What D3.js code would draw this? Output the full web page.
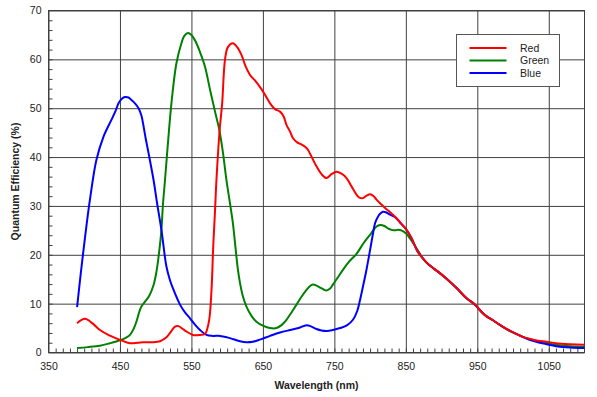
<!DOCTYPE html>
<html>
<head>
<meta charset="utf-8">
<script src="https://cdnjs.cloudflare.com/ajax/libs/d3/7.8.5/d3.min.js"></script>
<style>
    body { margin: 0; background: #fff; }
    text { font-family: "Liberation Sans", Arial, sans-serif; fill: #222; }
</style>
</head>
<body>
<script>
    // wavelength (nm) / quantum efficiency (%)
    var redWl = [390, 401, 412, 422, 435, 450, 464, 475, 483, 495, 506, 515, 520, 527, 532, 538, 543, 552, 562, 569, 574, 576, 578.5, 580.5, 583, 585, 589.5, 593, 597, 601, 608, 614, 620, 626, 632, 640, 648, 654, 660, 667, 674, 679, 683, 688, 692, 698, 704, 709, 713, 719, 725, 732, 739, 746, 753, 760, 767, 774, 781, 785, 790, 795, 800, 805, 809, 815, 821, 828, 835, 842, 850, 858, 866, 872, 879, 888, 898, 907, 921, 935, 946, 950, 956, 963, 972, 981, 990, 1000, 1012, 1023, 1035, 1047, 1060, 1080, 1100];
    var redQe = [6.0, 6.9, 5.9, 4.6, 3.5, 2.6, 1.9, 2.0, 2.1, 2.1, 2.3, 3.1, 4.0, 5.3, 5.4, 4.8, 4.3, 3.6, 3.6, 3.8, 6.0, 8.1, 14, 21.7, 29, 35.3, 45.6, 51, 60, 62.5, 63.3, 62.5, 60.9, 58.5, 56.8, 55.5, 53.9, 52.5, 51.0, 49.8, 49.3, 48.3, 46.6, 45.2, 43.9, 43.0, 42.6, 42.1, 41.5, 39.8, 38.1, 36.5, 35.7, 36.5, 37.0, 36.6, 35.7, 34.0, 32.3, 31.7, 31.6, 32.1, 32.4, 32.0, 31.3, 30.4, 29.6, 28.7, 27.8, 26.6, 25.3, 23.4, 20.8, 19.6, 18.4, 17.3, 16.2, 15.1, 13.2, 11.1, 9.9, 9.3, 8.3, 7.4, 6.6, 5.7, 4.9, 4.1, 3.3, 2.8, 2.4, 2.2, 1.9, 1.7, 1.6];

    var greenWl = [390, 405, 422, 436, 450, 458, 464, 469, 473, 477, 480, 485, 491, 497, 501, 504, 508, 510, 513, 516, 522, 529, 536, 540, 545, 550, 556, 562, 569, 576, 583, 589, 594, 599, 604, 608, 612, 615, 618, 622, 627, 634, 641, 650, 660, 669, 676, 683, 690, 697, 704, 711, 716, 720, 725, 730, 735, 739, 744, 748, 755, 762, 770, 781, 790, 795, 801, 809, 814, 820, 825, 830, 835, 839, 845, 850, 856, 862, 868, 872, 879, 888, 898, 907, 921, 935, 946, 950, 956, 963, 972, 981, 990, 1000, 1012, 1023, 1035, 1047, 1060, 1080, 1100];
    var greenQe = [0.9, 1.1, 1.4, 1.9, 2.5, 3.0, 3.6, 4.8, 6.3, 8.3, 9.4, 10.4, 11.6, 13.8, 16.5, 19.6, 25.1, 30, 35.3, 40.8, 51, 59.2, 63.3, 64.8, 65.4, 65.0, 63.6, 61.5, 58.5, 53.8, 49.3, 45.6, 41, 35.3, 30.5, 26.5, 21, 17, 14.2, 11.5, 9.4, 7.5, 6.3, 5.5, 5.0, 5.0, 5.6, 6.7, 8.2, 9.8, 11.4, 12.8, 13.6, 13.9, 13.7, 13.3, 12.9, 12.7, 13.1, 13.9, 15.4, 16.9, 18.5, 20.2, 22.2, 23.2, 24.3, 25.8, 26.1, 25.9, 25.4, 25.1, 25.0, 25.1, 24.9, 24.4, 23.3, 22.0, 20.6, 19.6, 18.4, 17.3, 16.2, 15.1, 13.2, 11.1, 9.9, 9.3, 8.3, 7.4, 6.6, 5.7, 4.9, 4.1, 3.3, 2.7, 2.3, 1.9, 1.6, 1.3, 1.2];

    var blueWl = [390, 395, 399, 404, 408, 417, 427, 438, 444, 448, 453, 457, 462, 466, 471, 476, 480, 483, 486, 490, 497, 502, 508, 515, 520, 525, 534, 541, 548, 555, 562, 571, 580, 590, 600, 609, 618, 627, 636, 643, 649, 660, 674, 688, 700, 711, 718, 725, 732, 739, 748, 758, 768, 776, 782, 786, 790, 795, 800, 804, 807, 811, 814, 818, 822, 828, 835, 842, 850, 858, 866, 872, 879, 888, 898, 907, 921, 935, 946, 950, 956, 963, 972, 981, 990, 1000, 1012, 1023, 1035, 1047, 1060, 1080, 1100];
    var blueQe = [9.3, 16, 21, 27, 31.3, 39.4, 44.2, 47.6, 49.5, 51, 52.0, 52.3, 52.2, 51.7, 51.0, 50.0, 48.5, 46.3, 43.8, 40.8, 35.3, 30.5, 25.1, 17.6, 14.8, 12.8, 9.8, 8.2, 7.0, 5.7, 4.6, 3.6, 3.4, 3.4, 3.1, 2.7, 2.3, 2.1, 2.2, 2.5, 2.8, 3.4, 4.1, 4.6, 5.0, 5.6, 5.3, 4.8, 4.5, 4.4, 4.6, 5.0, 5.6, 6.7, 8.5, 10.8, 13.5, 17, 21, 24.3, 26.5, 27.8, 28.4, 28.8, 28.7, 28.2, 27.7, 26.6, 25.3, 23.4, 20.8, 19.6, 18.4, 17.3, 16.2, 15.1, 13.2, 11.1, 9.9, 9.3, 8.3, 7.4, 6.6, 5.7, 4.9, 4.1, 3.3, 2.6, 2.1, 1.7, 1.3, 1.0, 0.9];

    var seriesNames = ["Red", "Green", "Blue"];
    var seriesColors = ["#ff0000", "#008000", "#0000ff"];
    var xTicks = [350, 450, 550, 650, 750, 850, 950, 1050];
    var yTicks = [0, 10, 20, 30, 40, 50, 60, 70];

    var series = [
        { name: seriesNames[0], color: seriesColors[0], wl: redWl, qe: redQe },
        { name: seriesNames[1], color: seriesColors[1], wl: greenWl, qe: greenQe },
        { name: seriesNames[2], color: seriesColors[2], wl: blueWl, qe: blueQe }
    ];

    // Set the dimensions of the canvas / graph
    var margin = {top: 10.5, right: 12.5, bottom: 44.5, left: 48.5};
    var width = 597 - margin.left - margin.right;
    var height = 397 - margin.top - margin.bottom;

    var x = d3.scaleLinear().domain([350, 1100]).range([0, width]);
    var y = d3.scaleLinear().domain([0, 70]).range([height, 0]);

    var svg = d3.select("body")
        .append("svg")
        .attr("width", 597)
        .attr("height", 397);

    var g = svg.append("g")
        .attr("transform", "translate(" + margin.left + "," + margin.top + ")");

    var gridColor = "#404040";

    // minor ticks, inside the plot
    g.append("g")
        .attr("transform", "translate(0," + height + ")")
        .call(d3.axisTop(x).tickValues(d3.range(360, 1100, 10)).tickSize(4).tickFormat(""))
        .call(function(a) { a.select(".domain").remove(); })
        .selectAll("line").attr("stroke", gridColor);

    g.append("g")
        .call(d3.axisRight(y).tickValues(d3.range(2, 70, 2)).tickSize(4).tickFormat(""))
        .call(function(a) { a.select(".domain").remove(); })
        .selectAll("line").attr("stroke", gridColor);

    // grid lines
    g.append("g")
        .attr("transform", "translate(0," + height + ")")
        .call(d3.axisBottom(x).tickValues(xTicks).tickSize(-height).tickFormat(""))
        .call(function(a) { a.select(".domain").remove(); })
        .selectAll("line").attr("stroke", gridColor);

    g.append("g")
        .call(d3.axisLeft(y).tickValues(yTicks).tickSize(-width).tickFormat(""))
        .call(function(a) { a.select(".domain").remove(); })
        .selectAll("line").attr("stroke", gridColor);

    g.append("rect")
        .attr("width", width)
        .attr("height", height)
        .attr("fill", "none")
        .attr("stroke", gridColor);

    // tick labels
    g.append("g")
        .attr("transform", "translate(0," + height + ")")
        .call(d3.axisBottom(x).tickValues(xTicks).tickFormat(d3.format("d")).tickSize(0).tickPadding(10))
        .call(function(a) { a.select(".domain").remove(); })
        .selectAll("text")
        .style("font-size", "10.5px");

    g.append("g")
        .call(d3.axisLeft(y).tickValues(yTicks).tickSize(0).tickPadding(7))
        .call(function(a) { a.select(".domain").remove(); })
        .selectAll("text")
        .style("font-size", "10.5px");

    // axis titles
    g.append("text")
        .attr("x", width / 2)
        .attr("y", height + 36.5)
        .attr("text-anchor", "middle")
        .style("font-size", "10.5px")
        .style("font-weight", "bold")
        .text("Wavelength (nm)");

    g.append("text")
        .attr("transform", "translate(" + (-30) + "," + (height / 2) + ") rotate(-90)")
        .attr("text-anchor", "middle")
        .style("font-size", "10.5px")
        .style("font-weight", "bold")
        .text("Quantum Efficiency (%)");

    var line = d3.line()
        .curve(d3.curveCatmullRom.alpha(0.5))
        .x(function(d) { return x(d[0]); })
        .y(function(d) { return y(d[1]); });

    // draw green, blue, red so red ends on top like the source
    [1, 2, 0].forEach(function(i) {
        var s = series[i];
        g.append("path")
            .datum(d3.zip(s.wl, s.qe))
            .attr("fill", "none")
            .attr("stroke", s.color)
            .attr("stroke-width", 2)
            .attr("stroke-linejoin", "round")
            .attr("d", line);
    });

    // legend
    var legend = svg.append("g")
        .attr("transform", "translate(456.5,34.5)");

    legend.append("rect")
        .attr("width", 103)
        .attr("height", 52)
        .attr("fill", "#fff")
        .attr("stroke", "#555");

    series.forEach(function(s, i) {
        legend.append("line")
            .attr("x1", 13)
            .attr("x2", 50)
            .attr("y1", 13.5 + i * 12.5)
            .attr("y2", 13.5 + i * 12.5)
            .attr("stroke", s.color)
            .attr("stroke-width", 2);
        legend.append("text")
            .attr("x", 63.5)
            .attr("y", 13.5 + i * 12.5)
            .attr("dy", "0.35em")
            .style("font-size", "10.5px")
            .text(s.name);
    });
</script>
</body>
</html>
